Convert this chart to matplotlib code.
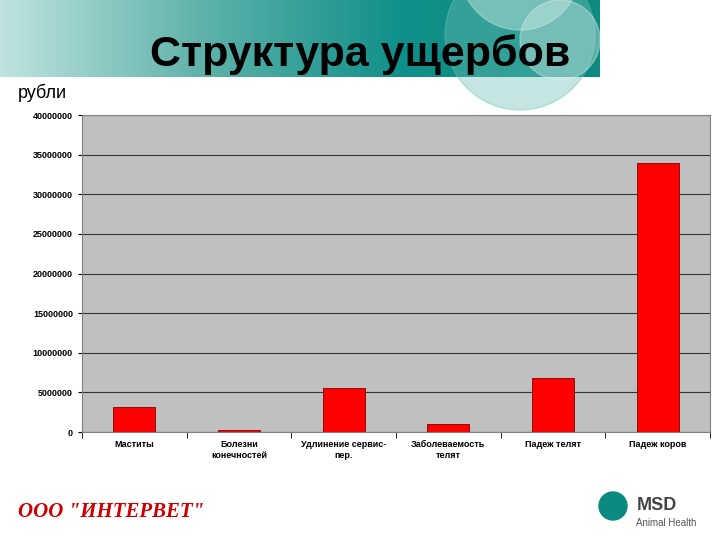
import numpy as np
import matplotlib
matplotlib.use("Agg")
import matplotlib.pyplot as plt
from matplotlib.patches import Circle
from matplotlib.colors import LinearSegmentedColormap

# Data
categories = ["Маститы", "Болезни\nконечностей", "Удлинение сервис-\nпер.",
              "Заболеваемость\nтелят", "Падеж телят", "Падеж коров"]
values = [3100000, 250000, 5550000, 1000000, 6800000, 33900000]
yticks = [0, 5000000, 10000000, 15000000, 20000000, 25000000, 30000000, 35000000, 40000000]

plt.rcParams['font.family'] = ['Liberation Sans', 'DejaVu Sans']
fig = plt.figure(figsize=(7.2, 5.4), dpi=100)

# Header banner with teal gradient
bg = fig.add_axes([0, 0, 1, 1])
bg.set_xlim(0, 720)
bg.set_ylim(540, 0)
bg.axis("off")
grad = np.linspace(0, 1, 256).reshape(1, -1)
cmap = LinearSegmentedColormap.from_list("teal", ["#bfe3df", "#5fb3aa", "#10908a", "#0e8a80"])
bg.imshow(grad, extent=[0, 600, 77, 0], aspect="auto", cmap=cmap, zorder=0)
bg.add_patch(Circle((520, 35), 75, color="#6cbfb5", alpha=0.4, zorder=1))
bg.add_patch(Circle((520, -30), 60, color="#b8e0da", alpha=0.5, zorder=1))
bg.add_patch(Circle((560, 40), 40, color="#d9efec", alpha=0.4, zorder=1))
bg.text(360, 55, "Структура ущербов", fontsize=31, fontweight="bold",
        ha="center", va="center", zorder=3)
bg.text(18, 93, "рубли", fontsize=13, ha="left", va="center")
bg.text(18, 512, 'ООО "ИНТЕРВЕТ"', fontsize=15, fontweight="bold", style="italic",
        color="#cc0000", family=["Liberation Serif", "DejaVu Serif"], ha="left", va="center")
bg.add_patch(Circle((613, 506), 14, color="#0a8a80"))
bg.text(637, 505, "MSD", fontsize=13, fontweight="bold", color="#444444", va="center")
bg.text(636, 523, "Animal Health", fontsize=7, color="#555555", va="center")

ax = fig.add_axes([82 / 720, (540 - 432) / 540, 628 / 720, 317 / 540])
ax.set_facecolor("#c0c0c0")
x = np.arange(len(categories))
ax.bar(x, values, width=0.4, color="#ff0000", edgecolor="#800000", linewidth=0.6, zorder=3)
ax.set_xlim(-0.5, len(categories) - 0.5)
ax.set_ylim(0, 40000000)
ax.set_yticks(yticks)
ax.set_yticklabels([str(v) for v in yticks], fontsize=6.5, fontweight="bold")
ax.yaxis.grid(True, color="#333333", linewidth=0.8, zorder=1)
ax.set_xticks(x)
ax.set_xticklabels(categories, fontsize=6.5, fontweight="bold")
ax.set_xticks(np.arange(-0.5, len(categories)), minor=True)
ax.tick_params(axis="x", which="major", length=0, pad=6)
ax.tick_params(axis="x", which="minor", length=4)
ax.tick_params(axis="y", length=3)
for s in ax.spines.values():
    s.set_color("#808080")

fig.savefig("out.png", dpi=100)
